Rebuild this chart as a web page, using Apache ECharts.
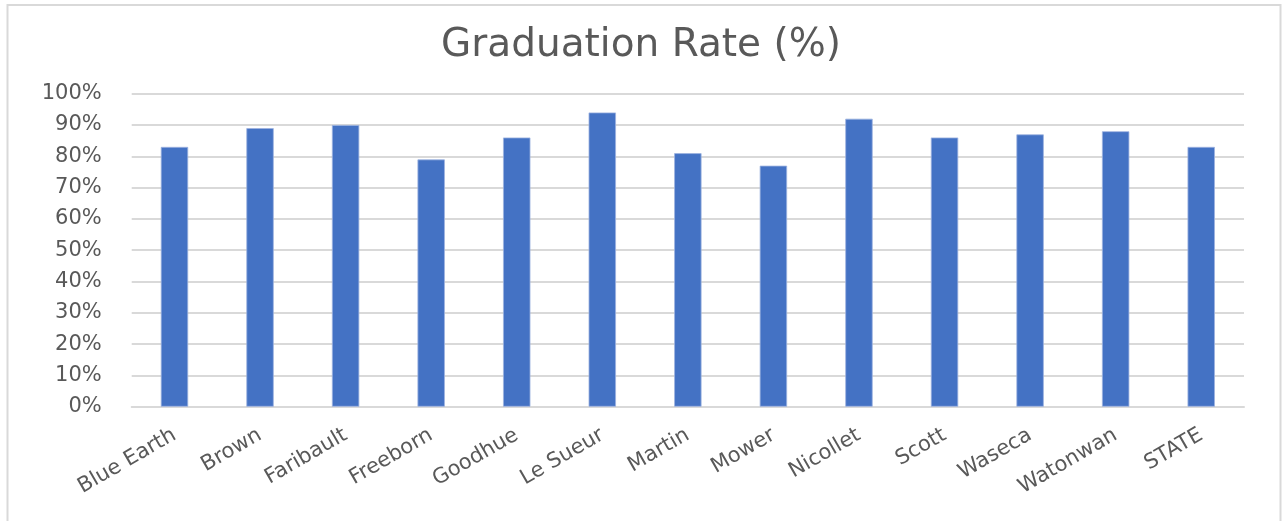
<!DOCTYPE html>
<html>
<head>
<meta charset="utf-8">
<script src="https://cdn.jsdelivr.net/npm/echarts@6/dist/echarts.min.js"></script>
<style>
html,body{margin:0;padding:0;background:#fff;}
#chart{width:1282px;height:521px;}
</style>
</head>
<body>
<div id="chart"></div>
<script>
const title = 'Graduation Rate (%)';
const categories = ['Blue Earth','Brown','Faribault','Freeborn','Goodhue','Le Sueur','Martin','Mower','Nicollet','Scott','Waseca','Watonwan','STATE'];
const rates = [0.83, 0.89, 0.90, 0.79, 0.86, 0.94, 0.81, 0.77, 0.92, 0.86, 0.87, 0.88, 0.83];
const yTicks = [0,0.1,0.2,0.3,0.4,0.5,0.6,0.7,0.8,0.9,1.0];

const chart = echarts.init(document.getElementById('chart'), null, {renderer:'canvas'});
const font = 'DejaVu Sans';
chart.setOption({
  animation:false,
  backgroundColor:'#ffffff',
  title:{
    text:title, left:'center', top:21,
    textStyle:{fontFamily:font, fontSize:39, fontWeight:'normal', color:'#595959'}
  },
  graphic:[{
    type:'polyline', silent:true,
    shape:{points:[[7.5,530],[7.5,5],[1280.5,5],[1280.5,530]]},
    style:{stroke:'#d9d9d9', lineWidth:2, fill:null}
  }],
  grid:{left:131.7, right:38, top:93.7, bottom:114.3, containLabel:false},
  xAxis:{
    type:'category', data:categories,
    axisLine:{show:true, lineStyle:{color:'#d9d9d9', width:2}},
    axisTick:{show:false},
    axisLabel:{rotate:30, interval:0, margin:27, fontFamily:font, fontSize:21, color:'#595959'}
  },
  yAxis:{
    type:'value', min:yTicks[0], max:yTicks[yTicks.length-1], interval:0.1,
    axisLine:{show:false}, axisTick:{show:false},
    splitLine:{lineStyle:{color:'#d9d9d9', width:2}},
    axisLabel:{margin:30, fontFamily:font, fontSize:21, color:'#595959',
      formatter:v=>Math.round(v*100)+'%'}
  },
  series:[{
    type:'bar', data:rates, barWidth:'32%',
    itemStyle:{color:'#4472c4', borderColor:'#9db3e0', borderWidth:0.8}
  }]
});
</script>
</body>
</html>
